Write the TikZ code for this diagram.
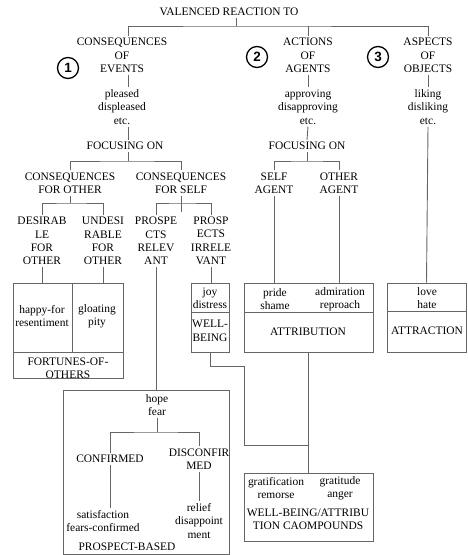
\documentclass[tikz,border=0pt]{standalone}
\usepackage{fontspec}
\setmainfont{Liberation Serif}
\setsansfont{Liberation Sans}
\usepackage{tikz}
\newcommand{\occsize}{\rmfamily\fontsize{11.5}{13.5}\selectfont}
\tikzset{
  lbl/.style={align=center, font=\occsize, inner sep=2pt},
  conn/.style={draw=black!60, line width=0.9bp},
  panel/.style={draw=black!60, line width=0.9bp, rectangle, inner sep=0pt},
  numcirc/.style={circle, draw=black, line width=1.3pt, inner sep=0pt,
                  minimum size=21bp, font=\sffamily\bfseries\fontsize{13.5}{13.5}\selectfont},
}

\begin{document}
\begin{tikzpicture}[x=1bp, y=-1bp]
  \useasboundingbox (0,0) rectangle (468,555);

  % top level
  \node[lbl] (root) at (229,12) {VALENCED REACTION TO};
  \node[lbl] (events) at (122,55.5) {CONSEQUENCES\\OF\\EVENTS};
  \node[lbl] (actions) at (308,55.5) {ACTIONS\\OF\\AGENTS};
  \node[lbl] (aspects) at (428,55.5) {ASPECTS\\OF\\OBJECTS};
  \node[numcirc] (one) at (68,68) {1};
  \node[numcirc] (two) at (257,57) {2};
  \node[numcirc] (three) at (378,57) {3};

  \node[lbl] (pleased) at (122,107) {pleased\\displeased\\etc.};
  \node[lbl] (approving) at (308,107) {approving\\disapproving\\etc.};
  \node[lbl] (liking) at (428,107) {liking\\disliking\\etc.};

  \node[lbl] (focus1) at (125,146) {FOCUSING ON};
  \node[lbl] (focus2) at (307,146) {FOCUSING ON};

  \node[lbl] (cother) at (70,183) {CONSEQUENCES\\FOR OTHER};
  \node[lbl] (cself) at (181,183) {CONSEQUENCES\\FOR SELF};
  \node[lbl] (selfag) at (274,183) {SELF\\AGENT};
  \node[lbl] (otherag) at (339,183) {OTHER\\AGENT};

  \node[lbl] (desir) at (42,241) {DESIRAB\\LE\\FOR\\OTHER};
  \node[lbl] (undes) at (103,241) {UNDESI\\RABLE\\FOR\\OTHER};
  \node[lbl] (prel) at (156,241) {PROSPE\\CTS\\RELEV\\ANT};
  \node[lbl] (pirr) at (211,241) {PROSP\\ECTS\\IRRELE\\VANT};

  % emotion boxes
  \node[panel, minimum width=110bp, minimum height=95bp] (fortunes) at (68,330.5) {};
  \node[panel, minimum width=38bp, minimum height=69bp] (wellbeing) at (210,317.5) {};
  \node[panel, minimum width=129bp, minimum height=69bp] (attribution) at (308.5,317.5) {};
  \node[panel, minimum width=79bp, minimum height=69bp] (attraction) at (426.5,317.5) {};
  \node[panel, minimum width=166bp, minimum height=164bp] (prospect) at (146,472) {};
  \node[panel, minimum width=129bp, minimum height=68bp] (compound) at (308.5,507) {};

  \draw[conn] (72,283) -- (72,352);
  \draw[conn] (13,352) -- (123,352);
  \draw[conn] (191,312) -- (229,312);
  \draw[conn] (244,312) -- (373,312);
  \draw[conn] (387,311) -- (466,311);

  \node[lbl, inner sep=0pt] (happy) at (42,316) {happy-for\\resentiment};
  \node[lbl, inner sep=0pt] (gloat) at (97,316) {gloating\\pity};
  \node[lbl, inner sep=0pt] (fortlbl) at (68,368) {FORTUNES-OF-\\OTHERS};
  \node[lbl, inner sep=0pt] (joy) at (210,298) {joy\\distress};
  \node[lbl, inner sep=0pt] (wblbl) at (210,331) {WELL-\\BEING};
  \node[lbl, inner sep=0pt] (pride) at (275,299) {pride\\shame};
  \node[lbl, inner sep=0pt] (admir) at (340,299) {admiration\\reproach};
  \node[lbl, inner sep=0pt] (attrlbl) at (308,332) {ATTRIBUTION};
  \node[lbl, inner sep=0pt] (love) at (427,298) {love\\hate};
  \node[lbl, inner sep=0pt] (attrclbl) at (427,331) {ATTRACTION};

  \node[lbl] (hope) at (157,405) {hope\\fear};
  \node[lbl] (confirmed) at (110,459) {CONFIRMED};
  \node[lbl] (disconf) at (199,459) {DISCONFIR\\MED};
  \node[lbl] (satisf) at (103,521) {satisfaction\\fears-confirmed};
  \node[lbl] (relief) at (199,521) {relief\\disappoint\\ment};
  \node[lbl, inner sep=0pt] (pblbl) at (127,547) {PROSPECT-BASED};

  \node[lbl, inner sep=0pt] (gratif) at (276,488) {gratification\\remorse};
  \node[lbl, inner sep=0pt] (gratit) at (340,488) {gratitude\\anger};
  \node[lbl, inner sep=0pt] (complbl) at (308,519) {WELL-BEING/ATTRIBU\\TION CAOMPOUNDS};

  % tree lines
  \coordinate (col1) at (128,0);
  \coordinate (top) at (236,26);
  \coordinate (bar1) at (128,161);
  \coordinate (bar2) at (70,203);
  \coordinate (bar3) at (181,203);
  \coordinate (tick3) at (181,212);
  \coordinate (bar4) at (307,161);
  \coordinate (bar5) at (157,432);
  \coordinate (elbow) at (244,366);
  \coordinate (merge) at (308.5,445);

  \draw[conn] (root.south -| top) -- (top);
  \draw[conn] (events.north -| col1) |- (top) -| (aspects.north);
  \draw[conn] (actions.north) -- (actions.north |- top);

  \draw[conn] (events.south -| col1) -- (pleased.north -| col1);
  \draw[conn] (pleased.south -| col1) -- (focus1.north -| col1);
  \draw[conn] (actions.south) -- (approving.north);
  \draw[conn] (approving.south) -- (focus2.north);
  \draw[conn] (aspects.south) -- (liking.north);
  \draw[conn] (liking.south) -- (attraction.north);

  \draw[conn] (focus1.south -| col1) -- (bar1);
  \draw[conn] (cother.north) |- (bar1) -| (cself.north);
  \draw[conn] (cother.south) -- (bar2);
  \draw[conn] (desir.north) |- (bar2) -| (undes.north);
  \draw[conn] (cself.south) -- (tick3);
  \draw[conn] (prel.north) |- (bar3) -| (pirr.north);

  \draw[conn] (desir.south) -- (desir.south |- fortunes.north);
  \draw[conn] (undes.south) -- (undes.south |- fortunes.north);
  \draw[conn] (prel.south) -- (prel.south |- prospect.north);
  \draw[conn] (pirr.south) -- (pirr.south |- wellbeing.north);

  \draw[conn] (focus2.south) -- (bar4);
  \draw[conn] (selfag.north) |- (bar4) -| (otherag.north);
  \draw[conn] (selfag.south) -- (selfag.south |- attribution.north);
  \draw[conn] (otherag.south) -- (otherag.south |- attribution.north);

  \draw[conn] (attribution.south) -- (compound.north);
  \draw[conn] (wellbeing.south) |- (elbow) |- (merge);

  \draw[conn] (hope.south) -- (bar5);
  \draw[conn] (confirmed.north) |- (bar5) -| (disconf.north);
  \draw[conn] (confirmed.south) -- (satisf.north -| confirmed.south);
  \draw[conn] (disconf.south) -- (relief.north);
\end{tikzpicture}
\end{document}
